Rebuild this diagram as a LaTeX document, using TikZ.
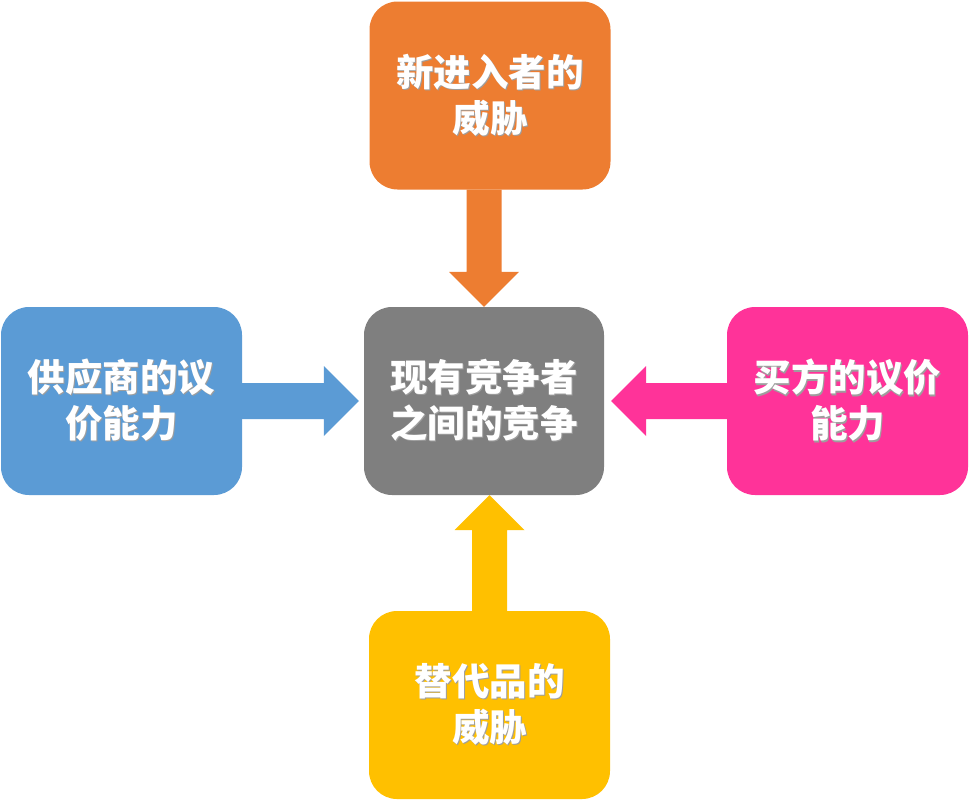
\documentclass[tikz,border=0pt]{standalone}
\usepackage{fontspec}
\newfontfamily\cjk{Noto Sans CJK SC}
\usetikzlibrary{calc}
\definecolor{cOrange}{HTML}{ED7D31}
\definecolor{cBlue}{HTML}{5B9BD5}
\definecolor{cGray}{HTML}{7F7F7F}
\definecolor{cPink}{HTML}{FF3399}
\definecolor{cYellow}{HTML}{FFC000}
\newcommand\shd[1]{\leavevmode\rlap{\hspace{1.1pt}\raisebox{-1.1pt}{\textcolor{black!38}{#1}}}#1}
\tikzset{
  box/.style={rounded corners=28pt, minimum width=241pt, minimum height=188pt,
    inner sep=0pt, text=white, align=center,
    font=\cjk\bfseries\fontsize{37.5pt}{46pt}\selectfont},
}
\begin{document}
\begin{tikzpicture}[x=1pt,y=1pt]
\useasboundingbox (0,0) rectangle (969,-801);
\node[box, fill=cOrange] (top) at (490,-95.5) {\shd{新进入者的}\\\shd{威胁}};
\node[box, fill=cGray, minimum width=240pt] (mid) at (484,-401) {\shd{现有竞争者}\\\shd{之间的竞争}};
\node[box, fill=cBlue] (left) at (121.5,-401) {\shd{供应商的议}\\\shd{价能力}};
\node[box, fill=cPink] (right) at (847.5,-401) {\shd{买方的议价}\\\shd{能力}};
\node[box, fill=cYellow] (bot) at (489.5,-705) {\raisebox{-3pt}{\shd{替代品的}}\\\raisebox{-3pt}{\shd{威胁}}};
% top arrow
\fill[cOrange] ([xshift=-17.5pt]mid.north |- top.south) -- ([xshift=-17.5pt,yshift=35pt]mid.north)
  -- ([xshift=-35pt,yshift=35pt]mid.north) -- (mid.north) -- ([xshift=35pt,yshift=35pt]mid.north)
  -- ([xshift=17.5pt,yshift=35pt]mid.north) -- ([xshift=17.5pt]mid.north |- top.south) -- cycle;
% bottom arrow
\fill[cYellow] ([xshift=-12pt]bot.north -| mid.south)
  -- ([xshift=-12pt,yshift=-35pt]mid.south) -- ([xshift=-29.5pt,yshift=-35pt]mid.south)
  -- ([xshift=5.5pt]mid.south) -- ([xshift=40.5pt,yshift=-35pt]mid.south)
  -- ([xshift=23pt,yshift=-35pt]mid.south) -- ([xshift=23pt]bot.north -| mid.south) -- cycle;
% left arrow
\fill[cBlue] ([yshift=18pt]left.east) -- ([xshift=-40pt,yshift=18pt]mid.west)
  -- ([xshift=-40pt,yshift=35pt]mid.west) -- ([xshift=-5pt]mid.west) -- ([xshift=-40pt,yshift=-35pt]mid.west)
  -- ([xshift=-40pt,yshift=-18pt]mid.west) -- ([yshift=-18pt]left.east) -- cycle;
% right arrow
\fill[cPink] ([yshift=18pt]right.west) -- ([xshift=42pt,yshift=18pt]mid.east)
  -- ([xshift=42pt,yshift=35pt]mid.east) -- ([xshift=7pt]mid.east) -- ([xshift=42pt,yshift=-35pt]mid.east)
  -- ([xshift=42pt,yshift=-18pt]mid.east) -- ([yshift=-18pt]right.west) -- cycle;
\end{tikzpicture}
\end{document}
